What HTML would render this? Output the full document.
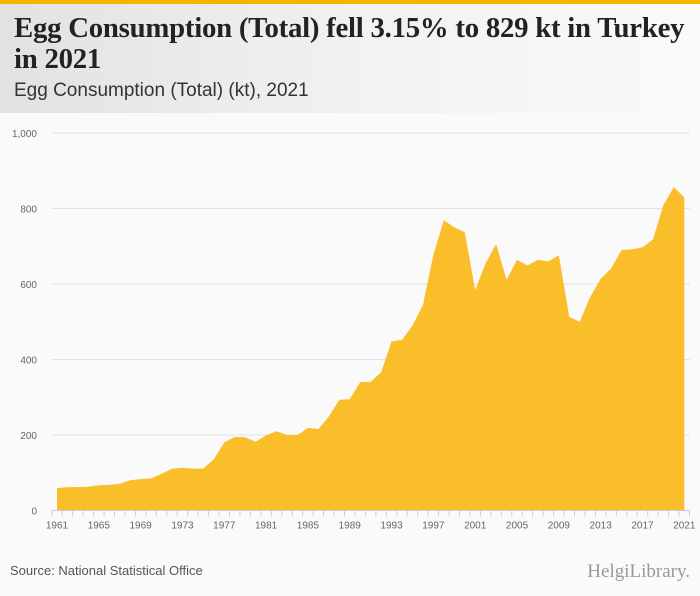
<!DOCTYPE html>
<html><head><meta charset="utf-8"><style>
body{margin:0;width:700px;height:596px;background:#fafafa;font-family:"Liberation Sans",sans-serif;position:relative;overflow:hidden}
#topbar{position:absolute;left:0;top:0;width:700px;height:4px;background:#f5b400}
#header{position:absolute;left:0;top:4px;width:700px;height:109px;background:linear-gradient(90deg,#e2e2e2 0%,#f1f1f1 50%,#fafafa 100%)}
#title{position:absolute;left:14px;top:13px;font-family:"Liberation Serif",serif;font-weight:bold;font-size:28.8px;line-height:31px;color:#222;letter-spacing:-0.25px;white-space:nowrap}
#subtitle{position:absolute;left:14px;top:80px;font-size:19px;color:#333}
#source{position:absolute;left:10px;top:563px;font-size:13px;color:#555}
#logo{position:absolute;right:10px;top:561px;font-family:"Liberation Serif",serif;font-size:19px;color:#999}
</style></head><body>
<div id="topbar"></div>
<div id="header"></div>
<div id="title">Egg Consumption (Total) fell 3.15% to 829 kt in Turkey<br>in 2021</div>
<div id="subtitle">Egg Consumption (Total) (kt), 2021</div>
<svg id="chart" width="700" height="596" style="position:absolute;left:0;top:0"></svg>
<div id="source">Source: National Statistical Office</div>
<div id="logo">HelgiLibrary.</div>
<script>
const years=[];for(let y=1961;y<=2021;y++)years.push(y);
const values=[59,62,62,63,67,68,71,80,83,85,97,111,113,111,111,136,180,195,194,182,199,210,200,200,219,216,249,293,295,340,341,366,448,452,490,544,677,769,750,737,584,655,706,611,664,649,664,660,676,513,500,566,614,641,690,692,697,718,809,857,829];
const yTicks=[0,200,400,600,800,1000];
const yTickLabels=["0","200","400","600","800","1,000"];
const xLabelYears=[1961,1965,1969,1973,1977,1981,1985,1989,1993,1997,2001,2005,2009,2013,2017,2021];
const NS="http://www.w3.org/2000/svg";
const svg=document.getElementById('chart');
const x0=57,x1=684.3,yb=510.5,yt=133;
const xs=v=>x0+(v-years[0])/(years[years.length-1]-years[0])*(x1-x0);
const ys=v=>yb-(v/1000)*(yb-yt);
function mk(t,a){const e=document.createElementNS(NS,t);for(const k in a)e.setAttribute(k,a[k]);svg.appendChild(e);return e;}
yTicks.forEach((t,i)=>{
  if(t>0){const g=mk('line',{x1:52,x2:690,y1:ys(t),y2:ys(t),stroke:'#e3e3e3','stroke-width':1});
  
  }
  const l=mk('text',{x:37,y:ys(t)+4,'text-anchor':'end','font-size':'10','fill':'#666','font-family':'Liberation Sans, sans-serif'});
  l.textContent=yTickLabels[i];
  
  
});
let d='M'+xs(years[0])+','+yb;
years.forEach((y,i)=>{d+=' L'+xs(y).toFixed(2)+','+ys(values[i]).toFixed(2);});
d+=' L'+xs(years[years.length-1])+','+yb+' Z';
const area=mk('path',{d:d,fill:'#f9b713','fill-opacity':'0.9'});


const ax=mk('line',{x1:52,x2:690,y1:yb,y2:yb,stroke:'#c5d0e6','stroke-width':1});


for(let y=1960.5;y<=2021.5;y+=1){
  const tk=mk('line',{x1:xs(y),x2:xs(y),y1:yb,y2:yb+6,stroke:'#c5d0e6','stroke-width':1});
  
  
}
xLabelYears.forEach(y=>{
  const l=mk('text',{x:xs(y),y:yb+18,'text-anchor':'middle','font-size':'10','fill':'#666','font-family':'Liberation Sans, sans-serif'});
  l.textContent=y;
  
  
});
</script>
</body></html>
